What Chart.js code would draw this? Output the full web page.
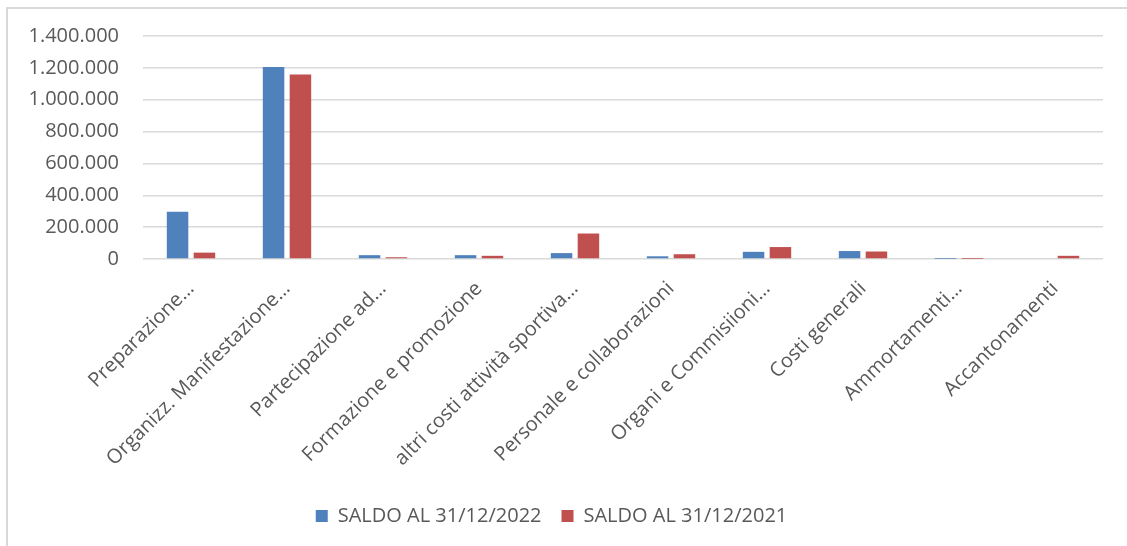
<!DOCTYPE html>
<html>
<head>
<meta charset="utf-8">
<script src="https://cdn.jsdelivr.net/npm/chart.js@4.4.0/dist/chart.umd.min.js"></script>
<style>
  html,body{margin:0;padding:0;background:#fff;}
  #wrap{position:relative;width:1127px;height:546px;overflow:hidden;}
  #frame{position:absolute;left:6px;top:7px;width:1200px;height:600px;border-left:2px solid #d9d9d9;border-top:2px solid #d9d9d9;}
  canvas{position:absolute;left:0;top:0;}
</style>
</head>
<body>
<div id="wrap">
  <div id="frame"></div>
  <canvas id="chart" width="1127" height="546"></canvas>
</div>
<script>
/* ── Dati ── */
const categorie = [
  'Preparazione…','Organizz. Manifestazione…','Partecipazione ad…','Formazione e promozione',
  'altri costi attività sportiva…','Personale e collaborazioni','Organi e Commisiioni…',
  'Costi generali','Ammortamenti…','Accantonamenti'
];
const saldo2022 = [296000, 1205000, 24000, 24000, 37000, 17000, 45000, 50000, 500, 0];
const saldo2021 = [40000, 1158000, 11000, 20000, 160000, 30000, 75000, 47000, 300, 20000];
const yTicks    = [0, 200000, 400000, 600000, 800000, 1000000, 1200000, 1400000];

const FONT = '"Open Sans", sans-serif';
const TC = '#595959', GC = '#d9d9d9';
const fmt = v => String(v).replace(/\B(?=(\d{3})+(?!\d))/g, '.');

new Chart(document.getElementById('chart'), {
  type: 'bar',
  data: {
    labels: categorie,
    datasets: [
      { label:'SALDO AL 31/12/2022', data:saldo2022, backgroundColor:'#4f81bd', categoryPercentage:0.56, barPercentage:0.8 },
      { label:'SALDO AL 31/12/2021', data:saldo2021, backgroundColor:'#c0504d', categoryPercentage:0.56, barPercentage:0.8 }
    ]
  },
  options: {
    responsive:false, animation:false,
    layout:{ padding:{ left:0, right:24, top:36, bottom:10 } },
    plugins:{
      tooltip:{ enabled:false },
      legend:{ position:'bottom', labels:{ color:TC, font:{ family:FONT, size:20 }, boxWidth:12, boxHeight:12, padding:20 } }
    },
    scales:{
      x:{
        afterFit: s => { s.height = 227; },
        grid:{ display:false }, border:{ display:false },
        ticks:{ color:TC, font:{ family:FONT, size:20 }, autoSkip:false, maxRotation:45, minRotation:45, padding:10 }
      },
      y:{
        min:0, max:yTicks[yTicks.length-1],
        afterBuildTicks: s => { s.ticks = yTicks.map(v => ({ value:v })); },
        afterFit: s => { s.width = 143; },
        grid:{ color:GC, lineWidth:1.5, drawTicks:false }, border:{ display:false },
        ticks:{ color:TC, font:{ family:FONT, size:20 }, padding:24, callback: v => fmt(v) }
      }
    }
  }
});
</script>
</body>
</html>
